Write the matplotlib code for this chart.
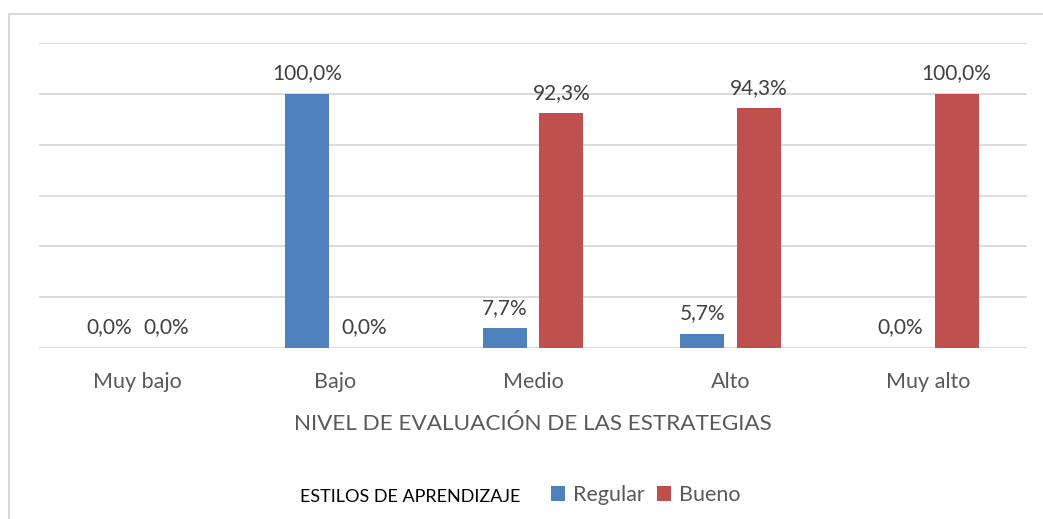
import matplotlib
matplotlib.use("Agg")
import matplotlib.pyplot as plt
import numpy as np
from matplotlib.patches import Rectangle

categories = ["Muy bajo", "Bajo", "Medio", "Alto", "Muy alto"]
regular = [0.0, 100.0, 7.7, 5.7, 0.0]
bueno = [0.0, 0.0, 92.3, 94.3, 100.0]
series_names = ["Regular", "Bueno"]
x_title = "NIVEL DE EVALUACIÓN DE LAS ESTRATEGIAS"
legend_title = "ESTILOS DE APRENDIZAJE"

plt.rcParams['font.family'] = ['Lato', 'DejaVu Sans']
W, H = 1043, 519
fig = plt.figure(figsize=(W/100, H/100), dpi=100)
fig.patches.append(Rectangle((9/W, -0.1), 1.2, 1 - 14/H + 0.1, transform=fig.transFigure,
                             fill=False, edgecolor='#D9D9D9', lw=1.5))
ax = fig.add_axes([39/W, 1 - 348/H, (1027-39)/W, (348-43)/H])

blue = '#4F81BD'
red = '#C0504D'
txt = '#595959'
x = np.arange(len(categories))
w = 0.223
off = 0.144
ax.bar(x - off, regular, w, color=blue, label=series_names[0], zorder=3)
ax.bar(x + off, bueno, w, color=red, label=series_names[1], zorder=3)

def fmt(v):
    return f"{v:.1f}%".replace('.', ',')

for xi, v in zip(x - off, regular):
    ax.annotate(fmt(v), (xi, v), xytext=(0, 7.5), textcoords='offset points',
                ha='center', va='bottom', fontsize=15, color='#404040')
for xi, v in zip(x + off, bueno):
    ax.annotate(fmt(v), (xi, v), xytext=(0, 7.5), textcoords='offset points',
                ha='center', va='bottom', fontsize=15, color='#404040')

ax.set_xlim(-0.5, len(categories) - 0.5)
ax.set_ylim(0, 120)
ax.set_yticks(np.arange(0, 121, 20))
ax.yaxis.grid(True, color='#D9D9D9', lw=1.3, zorder=0)
ax.tick_params(axis='y', left=False, labelleft=False)
ax.tick_params(axis='x', bottom=False, labelsize=15.5, labelcolor=txt, pad=14)
ax.set_xticks(x)
ax.set_xticklabels(categories)
for s in ax.spines.values():
    s.set_visible(False)
ax.set_xlabel(x_title, fontsize=16.2, color=txt, labelpad=15.5)

fig.text(410/W, 1 - 497/H, legend_title, fontsize=13, color='black', ha='center', va='center')
fig.legend(loc='center left', bbox_to_anchor=(551/W, 1 - 495/H), ncol=2, frameon=False,
           fontsize=15.5, labelcolor=txt, handlelength=0.65, handleheight=0.65,
           handletextpad=0.35, columnspacing=0.6, borderpad=0, borderaxespad=0)

fig.savefig("out.png", dpi=100)
